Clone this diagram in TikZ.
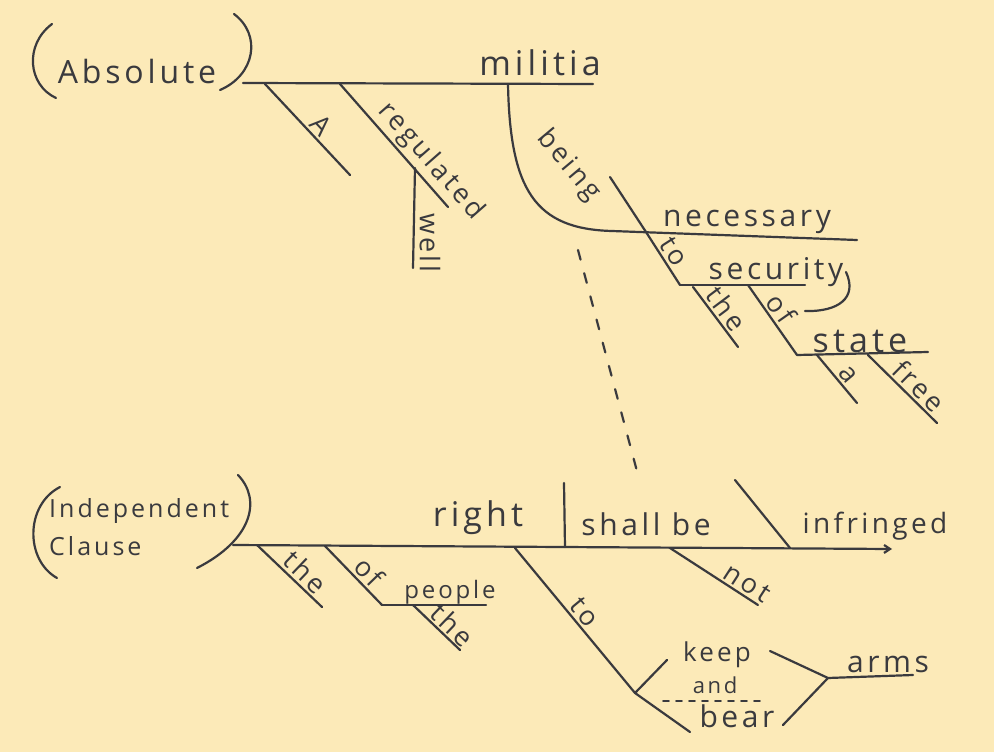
\documentclass[tikz,border=0pt]{standalone}
\usepackage{fontspec}
\newfontfamily\hand[LetterSpace=12]{Open Sans}
\usetikzlibrary{arrows.meta}
\definecolor{paper}{RGB}{252,234,184}
\definecolor{ink}{RGB}{58,58,62}

\begin{document}
\begin{tikzpicture}[x=1pt,y=-1pt,line join=round,line cap=round,
    stroke/.style={line width=2.2pt,draw=ink},
    word/.style={text=ink,inner sep=1pt,font=\hand\fontsize{30}{37}\selectfont},
    tag/.style={text=ink,sloped,above,inner sep=2.5pt,font=\hand\fontsize{27}{29}\selectfont}]

  \fill[paper] (0,0) rectangle (994,752);

  % ======================= top: the absolute phrase =======================
  \node[word,font=\hand\fontsize{32}{34}\selectfont] (abs) at (137,72) {Absolute};
  \draw[stroke] (52,24)  .. controls (24,45)  and (28,85)  .. (56,98);    % left paren
  \draw[stroke] (234,14) .. controls (262,35) and (255,75) .. (220,90);   % right paren

  \coordinate (mL) at (243,83);    % base line of militia
  \coordinate (mR) at (593,84);
  \draw[stroke] (mL) -- (mR);
  \node[word,font=\hand\fontsize{34}{36}\selectfont] (mil) at (540,63) {militia};

  \coordinate (aT) at (265,84);    % A
  \coordinate (aB) at (350,175);
  \coordinate (rT) at (340,84);    % regulated
  \coordinate (rB) at (448,207);
  \coordinate (wT) at (415,168);   % well, hanging from regulated
  \coordinate (wB) at (413,268);
  \draw[stroke] (aT) -- node[tag,pos=0.55] {A} (aB);
  \draw[stroke] (rT) -- node[tag,pos=0.72] {regulated} (rB);
  \draw[stroke] (wT) -- (wB);
  \node[tag,sloped=false,rotate=-90,anchor=south] (well) at (417,243) {well};

  \coordinate (bT) at (508,84);    % being: curve into the necessary line
  \coordinate (bK) at (612,231);
  \coordinate (nR) at (857,240);
  \draw[stroke] (bT) .. controls (510,190) and (535,229) .. (bK) -- (nR);
  \node[tag,sloped=false,rotate=-50] (being) at (556,176) {being};
  \node[word] (nec) at (747,222) {necessary};

  \coordinate (sT) at (610,177);   % slash before necessary
  \coordinate (sX) at (646,232);
  \coordinate (sB) at (680,285);   % to security
  \coordinate (secR) at (805,285);
  \draw[stroke] (sT) -- (sX);
  \draw[stroke] (sX) -- node[tag,pos=0.5] {to} (sB);
  \draw[stroke] (sB) -- (secR);
  \node[word] (sec) at (776,272) {security};

  \coordinate (thT) at (693,287);  % the
  \coordinate (thB) at (738,347);
  \coordinate (ofT) at (748,285);  % of state
  \coordinate (ofB) at (797,355);
  \coordinate (stR) at (928,352);
  \draw[stroke] (thT) -- node[tag,pos=0.5] {the} (thB);
  \draw[stroke] (ofT) -- node[tag,pos=0.45] {of} (ofB);
  \draw[stroke] (ofB) -- (stR);
  \node[word,font=\hand\fontsize{34}{36}\selectfont] (sta) at (860,341) {state};

  \coordinate (hkA) at (846,272);  % hook from security to of
  \coordinate (hkB) at (805,311);
  \draw[stroke] (hkA) .. controls (858,298) and (838,312) .. (hkB);

  \coordinate (aaT) at (817,355);  % a
  \coordinate (aaB) at (857,403);
  \coordinate (frT) at (868,355);  % free
  \coordinate (frB) at (937,423);
  \draw[stroke] (aaT) -- node[tag,pos=0.55] {a} (aaB);
  \draw[stroke] (frT) -- node[tag,pos=0.6] {free} (frB);

  \coordinate (dsT) at (578,250);  % dashed link to the clause
  \coordinate (dsB) at (638,475);
  \draw[stroke,dash pattern=on 10pt off 14pt] (dsT) -- (dsB);

  % ===================== bottom: the independent clause ====================
  \node[word,font=\hand\fontsize{25}{38}\selectfont,align=left,anchor=west] (ic) at (48,527) {Independent\\Clause};
  \draw[stroke] (60,487)  .. controls (25,505)  and (25,560)  .. (57,578);   % left paren
  \draw[stroke] (238,475) .. controls (262,500) and (252,540) .. (197,568);  % right paren

  \coordinate (iL) at (233,545);   % main base line
  \coordinate (iR) at (892,549);
  \coordinate (dvT) at (564,483);  % subject | verb
  \coordinate (dvB) at (565,547);
  \coordinate (slT) at (735,480);  % slash before infringed
  \coordinate (slB) at (790,548);
  \draw[stroke,-{Straight Barb[length=6pt,width=8pt]}] (iL) -- (iR);
  \draw[stroke] (dvT) -- (dvB);
  \draw[stroke] (slT) -- (slB);
  \node[word,font=\hand\fontsize{34}{36}\selectfont] (rig) at (478,518) {right};
  \node[word] (shb) at (646,524) {shall be};
  \node[word,font=\hand\fontsize{28}{30}\selectfont] (inf) at (875,526) {infringed};

  \coordinate (t1T) at (257,545);  % the
  \coordinate (t1B) at (322,607);
  \coordinate (o1T) at (325,546);  % of people
  \coordinate (o1B) at (382,605);
  \coordinate (pR)  at (486,605);
  \coordinate (t2T) at (413,605);  % the (people)
  \coordinate (t2B) at (460,650);
  \draw[stroke] (t1T) -- node[tag,pos=0.6] {the} (t1B);
  \draw[stroke] (o1T) -- node[tag,pos=0.6] {of} (o1B);
  \draw[stroke] (o1B) -- (pR);
  \draw[stroke] (t2T) -- node[tag,pos=0.65,inner sep=1.5pt] {the} (t2B);
  \node[word,font=\hand\fontsize{24}{26}\selectfont] (peo) at (450,592) {people};

  \coordinate (ntT) at (670,548);  % not
  \coordinate (ntB) at (758,605);
  \draw[stroke] (ntT) -- node[tag,pos=0.8] {not} (ntB);

  \coordinate (toT) at (515,548);  % to keep and bear arms
  \coordinate (toB) at (635,693);
  \coordinate (kp)  at (667,660);
  \coordinate (br)  at (690,732);
  \coordinate (kr)  at (770,651);
  \coordinate (bR)  at (783,725);
  \coordinate (jn)  at (828,678);
  \coordinate (arR) at (913,675);
  \draw[stroke] (toT) -- node[tag,pos=0.5] {to} (toB);
  \draw[stroke] (toB) -- (kp)  (toB) -- (br);
  \draw[stroke] (kr) -- (jn)  (bR) -- (jn)  (jn) -- (arR);
  \node[word,font=\hand\fontsize{26}{28}\selectfont] (kee) at (717,655) {keep};
  \node[word,font=\hand\fontsize{22}{24}\selectfont] (and) at (715,685) {and};
  \draw[stroke,line width=1.6pt,dash pattern=on 6pt off 7pt] (663,701) -- (760,701);
  \node[word] (bea) at (737,716) {bear};
  \node[word] (arm) at (888,664) {arms};

\end{tikzpicture}
\end{document}
